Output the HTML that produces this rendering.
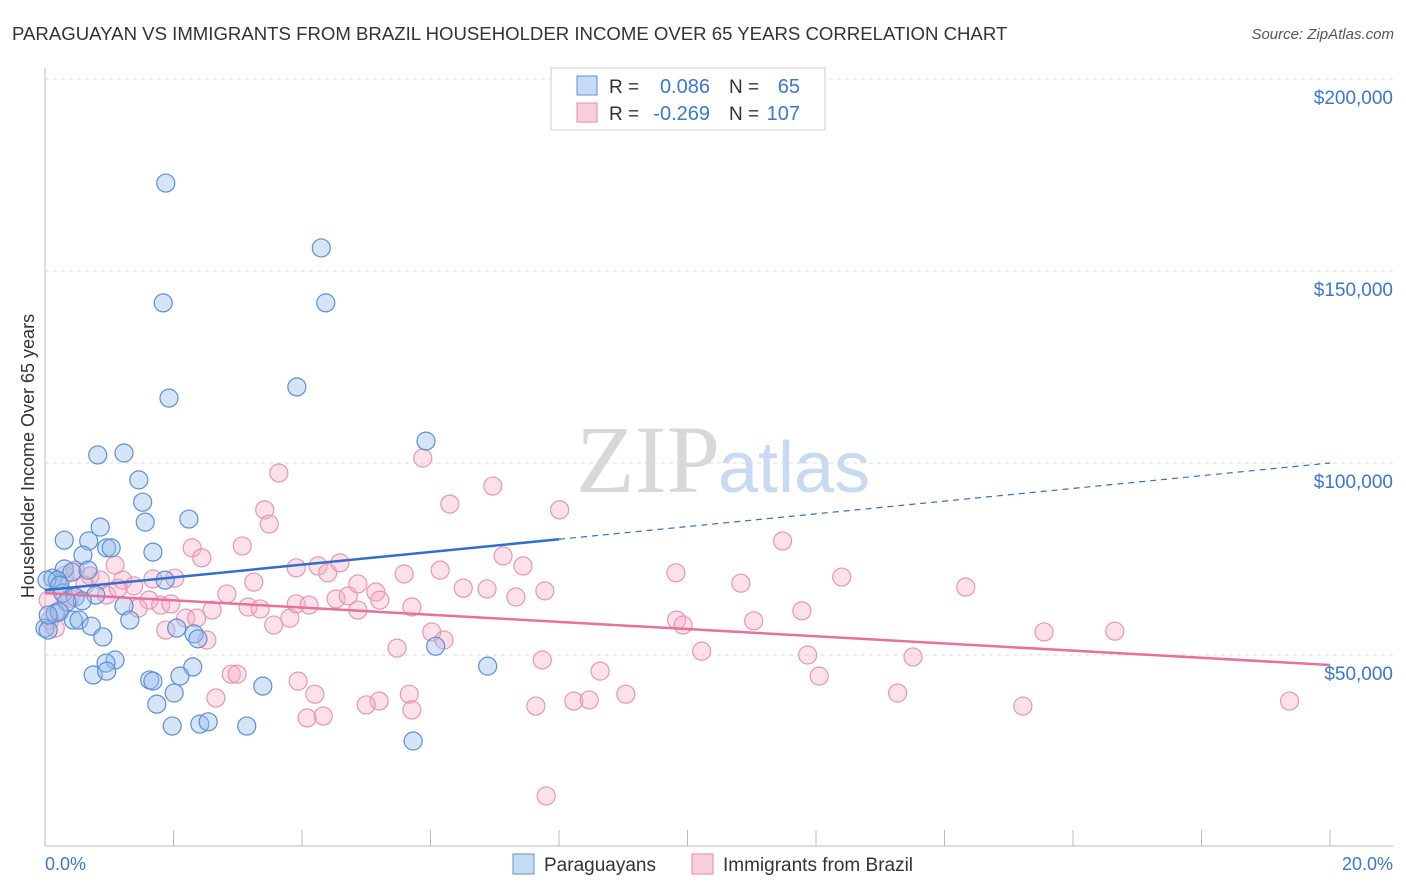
<!DOCTYPE html>
<html><head><meta charset="utf-8">
<style>
body{margin:0;background:#fff;font-family:"Liberation Sans",sans-serif;}
svg{display:block}
</style></head>
<body>
<svg id="c" width="1406" height="892" xmlns="http://www.w3.org/2000/svg">
<text x="12" y="40" font-size="18.6" fill="#333">PARAGUAYAN VS IMMIGRANTS FROM BRAZIL HOUSEHOLDER INCOME OVER 65 YEARS CORRELATION CHART</text>
<text x="1394" y="39" font-size="15" fill="#555" font-style="italic" text-anchor="end">Source: ZipAtlas.com</text>
<text x="720" y="492" font-size="96" fill="#d8d8d8" text-anchor="end" font-family="Liberation Serif,serif">ZIP</text>
<text x="718" y="492" font-size="72" fill="#c8daf0">atlas</text>
<text transform="translate(34,456) rotate(-90)" font-size="18" fill="#333" text-anchor="middle">Householder Income Over 65 years</text>
<g id="grid"></g><g id="pts"></g><g id="trend"></g>
<g>
<rect x="551" y="68" width="274" height="62" fill="#fff" stroke="#ccc"/>
<rect x="577" y="76" width="20" height="19" fill="rgba(160,195,235,0.6)" stroke="#5a90d8"/>
<rect x="577" y="103" width="20" height="19" fill="rgba(245,175,200,0.6)" stroke="#e888a8"/>
<text x="609" y="93" font-size="19" fill="#333">R =</text>
<text x="710" y="93" font-size="20" fill="#3a78d0" text-anchor="end">0.086</text>
<text x="729" y="93" font-size="19" fill="#333">N =</text>
<text x="800" y="93" font-size="20" fill="#3a78d0" text-anchor="end">65</text>
<text x="609" y="120" font-size="19" fill="#333">R =</text>
<text x="710" y="120" font-size="20" fill="#3a78d0" text-anchor="end">-0.269</text>
<text x="729" y="120" font-size="19" fill="#333">N =</text>
<text x="800" y="120" font-size="20" fill="#3a78d0" text-anchor="end">107</text>
</g>
<g>
<rect x="513" y="854" width="21" height="20" fill="rgba(160,195,235,0.6)" stroke="#5a90d8"/>
<text x="544" y="871" font-size="19" fill="#333">Paraguayans</text>
<rect x="692" y="854" width="21" height="20" fill="rgba(245,175,200,0.6)" stroke="#e888a8"/>
<text x="723" y="871" font-size="19" fill="#333">Immigrants from Brazil</text>
</g>
<text x="45" y="870" font-size="18" fill="#3a78d0">0.0%</text>
<text x="1393" y="870" font-size="18" fill="#3a78d0" text-anchor="end">20.0%</text>
</svg>
<script>
const yTicks=[50000,100000,150000,200000];
const yTickLabels=["$50,000","$100,000","$150,000","$200,000"];
const xTicks=[0,2,4,6,8,10,12,14,16,18,20];
const blueX=[1.88,4.30,1.84,4.37,1.93,3.92,5.93,.82,1.23,1.46,1.52,1.56,2.24,.86,.30,.68,.96,1.03,1.68,.59,.30,.42,.67,.12,.19,.03,1.87,.28,.47,.79,.58,.34,1.23,.16,.22,.44,.53,1.32,.72,2.05,2.32,0,.05,.90,2.38,6.08,1.09,.95,2.30,6.89,2.10,.75,.96,1.63,1.68,3.39,2.01,1.74,1.98,2.41,2.54,3.14,5.73,.05,.23];
const blueY=[172.9,156.0,141.7,141.7,116.9,119.8,105.7,102.1,102.6,95.6,89.8,84.6,85.4,83.3,79.9,79.7,77.9,77.9,76.8,76.0,72.4,71.6,72.1,70.0,69.5,69.5,69.5,66.1,65.1,65.6,64.1,63.8,62.8,60.9,61.2,59.1,59.1,59.1,57.5,57.0,55.5,57.0,56.5,54.7,54.2,52.3,48.7,47.9,46.9,47.1,44.5,44.8,45.8,43.5,43.2,41.9,40.1,37.2,31.5,32.0,32.6,31.5,27.6,60.4,68.2];
const pinkX=[3.64,5.88,6.97,6.30,8.01,3.42,3.49,11.48,3.07,2.29,7.13,2.44,3.91,4.25,4.40,4.59,7.44,6.15,5.59,9.82,12.40,10.83,14.33,3.25,2.02,.70,1.09,1.21,1.38,1.68,.96,1.62,1.80,1.96,2.60,2.83,3.16,3.35,3.91,4.11,4.53,4.72,4.87,5.15,5.21,5.71,6.51,6.88,7.33,7.78,4.87,3.81,3.56,2.19,2.36,1.88,2.52,11.78,9.83,9.93,11.03,6.02,6.21,5.48,10.22,11.87,13.51,15.55,16.65,8.64,7.74,2.90,2.99,3.94,4.20,2.66,5.67,5.20,5.71,5.00,7.64,8.23,8.47,9.04,12.05,13.27,15.22,19.37,4.08,4.33,7.80,.23,.39,.08,.62,.86,.16,.05,1.14,1.45,.31,.47];
const pinkY=[97.4,101.3,94.0,89.3,87.8,87.8,84.1,79.7,78.4,77.9,75.8,75.3,72.7,73.2,71.4,74.0,73.2,72.1,71.1,71.4,70.3,68.7,67.7,69.0,70.0,70.6,73.4,69.5,68.0,69.8,65.6,64.3,63.0,63.3,61.7,65.9,62.5,62.0,63.3,63.0,64.6,65.4,68.5,66.4,64.3,62.5,67.4,67.2,65.1,66.7,61.7,59.6,57.8,59.6,59.6,56.5,53.9,61.5,59.1,57.8,58.9,56.0,53.9,51.8,51.0,50.0,49.5,56.0,56.2,45.8,48.7,45.0,45.0,43.2,39.8,38.8,39.8,38.0,35.7,37.0,36.7,38.0,38.3,39.8,44.5,40.1,36.7,38.0,33.6,34.1,13.3,61.7,64.8,59.1,68.2,69.5,57.0,64.3,67.4,62.2,70.8,72.1];
const blueTrend=[66.9,100.0];
const pinkTrend=[66.1,47.4];
const NS="http://www.w3.org/2000/svg";
const sx=v=>45+v*64.25;
const sy=v=>847-v*0.00384;
function mk(t,a,p){const e=document.createElementNS(NS,t);for(const k in a)e.setAttribute(k,a[k]);p.appendChild(e);return e;}
const grid=document.getElementById('grid');
mk('line',{x1:45,y1:68,x2:45,y2:846,stroke:'#bbb'},grid);
mk('line',{x1:45,y1:846,x2:1393,y2:846,stroke:'#bbb'},grid);
yTicks.forEach((v,i)=>{
 const l=mk('line',{x1:45,x2:1393,y1:sy(v),y2:sy(v),stroke:'#ddd','stroke-dasharray':'4,4'},grid);
 
 
 const t=mk('text',{x:1393,y:sy(v)+25,'font-size':19,fill:'#3a78d0','text-anchor':'end'},grid);
 t.textContent=yTickLabels[i];
 
 
});
xTicks.forEach(v=>{
 const l=mk('line',{x1:sx(v),x2:sx(v),y1:830,y2:846,stroke:'#bbb'},grid);
 
 
});
const pts=document.getElementById('pts');
pinkX.forEach((x,i)=>{
 const c=mk('circle',{cx:sx(x),cy:sy(pinkY[i]*1000),r:9,fill:'rgba(245,170,195,0.35)',stroke:'#eb94b2','stroke-width':1.2},pts);
 
 
});
blueX.forEach((x,i)=>{
 const c=mk('circle',{cx:sx(x),cy:sy(blueY[i]*1000),r:9,fill:'rgba(150,188,235,0.4)',stroke:'#5a90d8','stroke-width':1.2},pts);
 
 
});
const tr=document.getElementById('trend');
const bAt=x=>blueTrend[0]+(blueTrend[1]-blueTrend[0])*x/20;
let l1=mk('line',{x1:sx(0),y1:sy(bAt(0)*1000),x2:sx(8),y2:sy(bAt(8)*1000),stroke:'#2f6fd0','stroke-width':2.5},tr);


let l2=mk('line',{x1:sx(8),y1:sy(bAt(8)*1000),x2:sx(20),y2:sy(bAt(20)*1000),stroke:'#2f6fd0','stroke-width':1.2,'stroke-dasharray':'6,5'},tr);


let l3=mk('line',{x1:sx(0),y1:sy(pinkTrend[0]*1000),x2:sx(20),y2:sy(pinkTrend[1]*1000),stroke:'#e8709a','stroke-width':2.5},tr);


</script>
</body></html>
